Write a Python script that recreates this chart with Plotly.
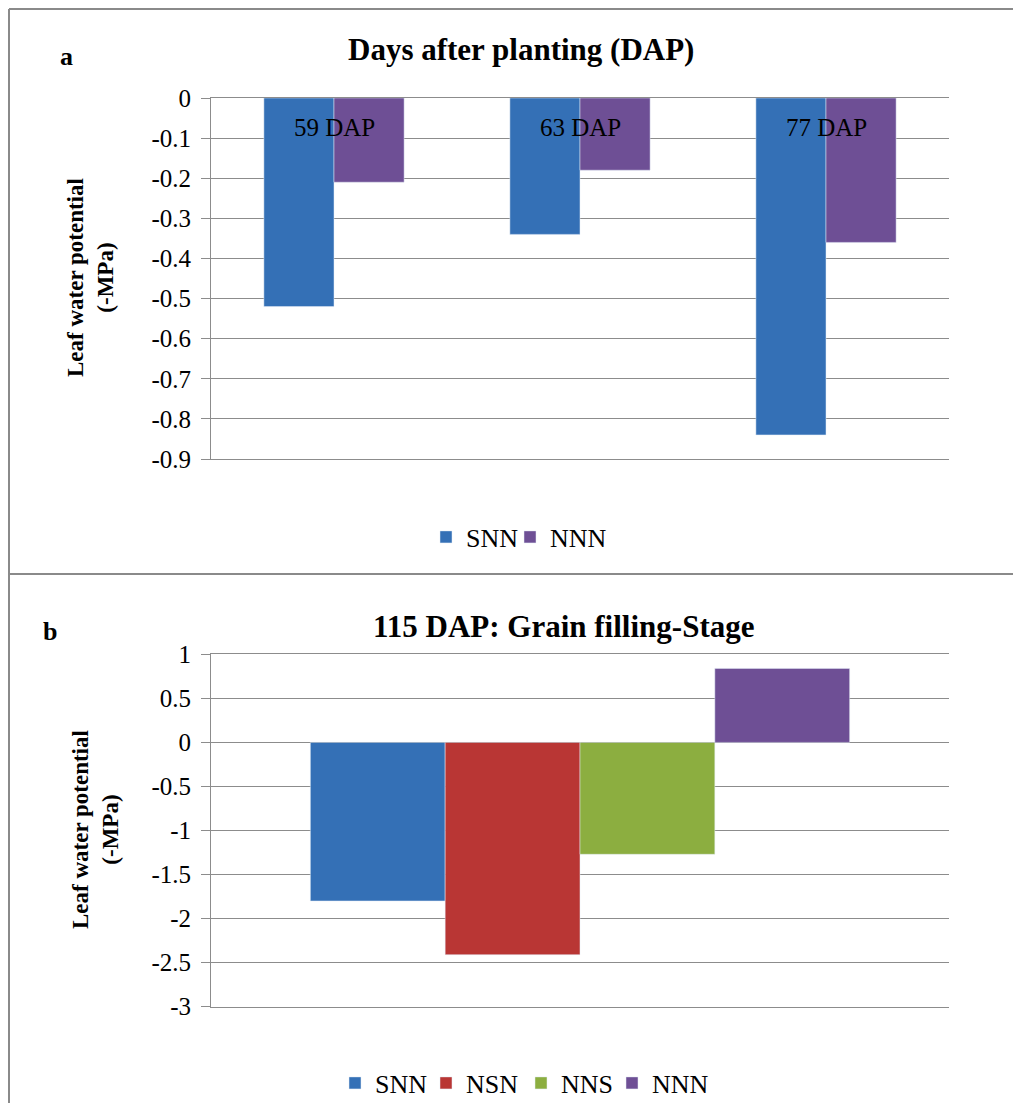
import plotly.graph_objects as go

# ---------------- data ----------------
# Panel a: days after planting
dap_categories = ["59 DAP", "63 DAP", "77 DAP"]
snn_a = [-0.52, -0.34, -0.84]
nnn_a = [-0.21, -0.18, -0.36]
ticks_a = [0, -0.1, -0.2, -0.3, -0.4, -0.5, -0.6, -0.7, -0.8, -0.9]
ticklabels_a = ["0", "-0.1", "-0.2", "-0.3", "-0.4", "-0.5", "-0.6", "-0.7", "-0.8", "-0.9"]

# Panel b: 115 DAP grain filling stage
stage_category = ["115 DAP"]
treatments_b = ["SNN", "NSN", "NNS", "NNN"]
values_b = [-1.80, -2.41, -1.27, 0.84]
ticks_b = [1, 0.5, 0, -0.5, -1, -1.5, -2, -2.5, -3]
ticklabels_b = ["1", "0.5", "0", "-0.5", "-1", "-1.5", "-2", "-2.5", "-3"]

title_a = "Days after planting (DAP)"
title_b = "115 DAP: Grain filling-Stage"
ytitle = "Leaf water potential<br>(-MPa)"

# ---------------- style ----------------
BODY = 8                      # default page margin around the plot div
W, H = 1021 - 2 * BODY, 1111 - 2 * BODY
FONT = "Liberation Serif"
GRID = "#8c8c8c"
colors = {"SNN": "#3470B6", "NSN": "#B93634", "NNS": "#8CAE40", "NNN": "#6E4F95"}

# legend square left edges (page px) and legend rows
legend_x_a = [441, 525]
legend_x_b = [350, 441, 536, 627]
legend_y_a, legend_y_b = 537, 1083


def px(x):
    return (x - BODY) / W


def py(y):
    return 1 - (y - BODY) / H


fig = go.Figure()

legend_defs = {}
n = 0


def next_legend(xpos, ypos):
    global n
    n += 1
    key = "legend" if n == 1 else "legend%d" % n
    legend_defs[key] = dict(
        orientation="h", x=px(xpos - 15), xanchor="left", y=py(ypos), yanchor="middle",
        font=dict(family=FONT, size=26, color="black"), bgcolor="rgba(0,0,0,0)")
    return key


fig.add_trace(go.Bar(x=dap_categories, y=snn_a, name="SNN", marker_color=colors["SNN"],
                     xaxis="x", yaxis="y", showlegend=True,
                     legend=next_legend(legend_x_a[0], legend_y_a)))
fig.add_trace(go.Bar(x=dap_categories, y=nnn_a, name="NNN", marker_color=colors["NNN"],
                     xaxis="x", yaxis="y", showlegend=True,
                     legend=next_legend(legend_x_a[1], legend_y_a)))

for t, v, lx in zip(treatments_b, values_b, legend_x_b):
    fig.add_trace(go.Bar(x=stage_category, y=[v], name=t, marker_color=colors[t],
                         xaxis="x2", yaxis="y2", showlegend=True,
                         legend=next_legend(lx, legend_y_b)))

axis_common = dict(showline=True, linecolor=GRID, linewidth=1)
yaxis_common = dict(
    ticks="outside", ticklen=9, tickcolor=GRID, showgrid=True, gridcolor=GRID,
    gridwidth=1, zeroline=False, tickfont=dict(family=FONT, size=25, color="black"),
    ticklabelstandoff=5, fixedrange=True, **axis_common)
xaxis_common = dict(showticklabels=False, showgrid=False, ticks="", zeroline=False,
                    mirror=True, type="category", fixedrange=True, **axis_common)

fig.update_layout(
    width=W, height=H,
    margin=dict(l=0, r=0, t=0, b=0, autoexpand=False),
    paper_bgcolor="white", plot_bgcolor="white",
    showlegend=True,
    barmode="group", bargap=0.43, bargroupgap=0,
    font=dict(family=FONT, color="black"),
    xaxis=dict(domain=[px(211), px(949)], anchor="y", **xaxis_common),
    yaxis=dict(domain=[py(459), py(98)], range=[-0.9, 0], tickvals=ticks_a,
               ticktext=ticklabels_a, anchor="x", **yaxis_common),
    xaxis2=dict(domain=[px(211), px(949)], anchor="y2", range=[-0.39, 0.39], **xaxis_common),
    yaxis2=dict(domain=[py(1006.7), py(654.3)], range=[-3, 1], tickvals=ticks_b,
                ticktext=ticklabels_b, anchor="x2", **yaxis_common),
    **legend_defs,
)

annotations = []
for c in dap_categories:
    annotations.append(dict(x=c, y=-0.074, xref="x", yref="y", text=c, showarrow=False,
                            xanchor="center", yanchor="middle",
                            font=dict(family=FONT, size=25, color="black")))


def paper_text(x, y, text, size, angle=0):
    return dict(x=px(x), y=py(y), xref="paper", yref="paper", text=text, showarrow=False,
                xanchor="center", yanchor="middle", textangle=angle,
                font=dict(family=FONT, size=size, color="black"))


annotations += [
    paper_text(66, 56, "<b>a</b>", 26),
    paper_text(521, 50, "<b>" + title_a + "</b>", 31),
    paper_text(90, 278, "<b>" + ytitle + "</b>", 23, -90),
    paper_text(50, 631, "<b>b</b>", 26),
    paper_text(563, 626, "<b>" + title_b + "</b>", 31),
    paper_text(95, 830, "<b>" + ytitle + "</b>", 23, -90),
]
fig.update_layout(annotations=annotations)

border = dict(color="#8a8a8a", width=2)
fig.update_layout(shapes=[
    dict(type="line", xref="paper", yref="paper", x0=px(9), x1=1.0, y0=py(9), y1=py(9), line=border),
    dict(type="line", xref="paper", yref="paper", x0=px(9), x1=px(9), y0=py(9), y1=0.0, line=border),
    dict(type="line", xref="paper", yref="paper", x0=px(9), x1=1.0, y0=py(574), y1=py(574), line=border),
])

fig.write_html("out.html")
